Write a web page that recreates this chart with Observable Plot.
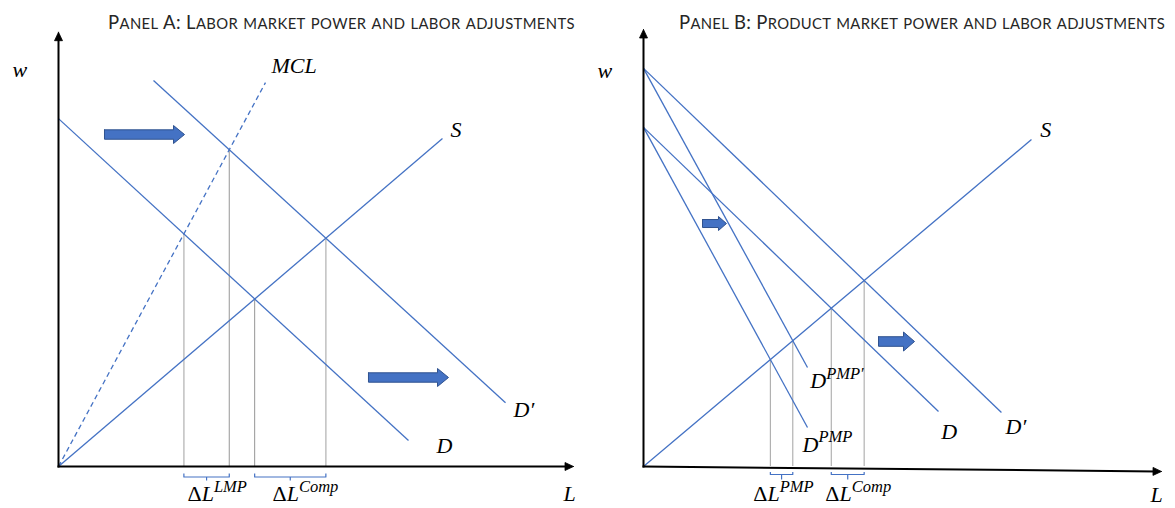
<!DOCTYPE html>
<html>
<head>
<meta charset="utf-8">
<script src="https://cdn.jsdelivr.net/npm/d3@7"></script>
<script src="https://cdn.jsdelivr.net/npm/@observablehq/plot@0.6"></script>
<style>
html,body{margin:0;padding:0;background:#fff;}
#wrap{position:relative;width:1175px;height:508px;overflow:hidden;background:#fff;}
.panel{position:absolute;top:0;height:508px;}
.panel svg{position:absolute;left:0;top:0;}
.title{position:absolute;white-space:nowrap;font-family:Lato,"Open Sans",sans-serif;color:#262626;z-index:2;line-height:1;}
.title .sc{font-size:0.8em;text-transform:uppercase;}
</style>
</head>
<body>
<div id="wrap">
  <div class="panel" id="panelA" style="left:0;width:587px"></div>
  <div class="panel" id="panelB" style="left:587px;width:588px"></div>
</div>
<script>
// ---------- Panel A data (L = labour, w = wage; both axes run 0–100) ----------
const titleA = "Panel A: Labor market power and labor adjustments";
const curveNamesA = ["D", "D′", "S", "MCL"];
const curveStartA = [[0, 80.1], [18.45, 88.9], [0, 0], [0, 0]];
const curveEndA   = [[67.96, 6.0], [86.8, 14.7], [74.56, 75.5], [40.19, 88.4]];
const dropPairsA  = [["D", "MCL"], ["D′", "MCL"], ["D", "S"], ["D′", "S"]];
const bracketNamesA = ["ΔL^LMP", "ΔL^Comp"];
const bracketDropsA = [[0, 1], [2, 3]];
const shiftFromA = [8.93, 60.19];
const shiftToA   = [24.47, 75.73];
const shiftWageA = [76.44, 20.49];
const labelTextA = ["w", "MCL", "S", "D′", "D", "L", "ΔL^LMP", "ΔL^Comp"];
const labelLA    = [-8.93, 41.36, 76.1, 88.35, 73.4, 98.06, 25.05, 41.55];
const labelWA    = [89.57, 90.72, 75.98, 11.51, 3.22, -8.0, -8.0, -8.0];
const xAxisEndWA = 0;

// ---------- Panel B data ----------
const titleB = "Panel B: Product market power and labor adjustments";
const curveNamesB = ["D′", "D^PMP′", "D", "D^PMP", "S"];
const curveStartB = [[0, 91.1], [0, 91.1], [0, 77.6], [0, 77.6], [0, 0]];
const curveEndB   = [[69.1, 12.36], [31.66, 22.65], [56.95, 12.59], [31.66, 8.92], [74.9, 74.83]];
const dropPairsB  = [["D^PMP", "S"], ["D^PMP′", "S"], ["D", "S"], ["D′", "S"]];
const bracketNamesB = ["ΔL^PMP", "ΔL^Comp"];
const bracketDropsB = [[0, 1], [2, 3]];
const shiftFromB = [11.39, 45.37];
const shiftToB   = [16.02, 52.32];
const shiftWageB = [55.6, 28.6];
const labelTextB = ["w", "S", "D^PMP′", "D^PMP", "D", "D′", "L", "ΔL^PMP", "ΔL^Comp"];
const labelLB    = [-8.88, 76.6, 32.2, 30.7, 57.5, 69.9, 97.9, 21.2, 35.1];
const labelWB    = [89.0, 75.5, 17.85, 3.43, 6.4, 7.55, -8.2, -7.9, -7.9];
const xAxisEndWB = -1.14;

// ---------- drawing ----------
const BLUE = "#4472C4";

function intersect(a0, a1, b0, b1) {
  const [x1, y1] = a0, [x2, y2] = a1, [x3, y3] = b0, [x4, y4] = b1;
  const den = (x1 - x2) * (y3 - y4) - (y1 - y2) * (x3 - x4);
  const t = ((x1 - x3) * (y3 - y4) - (y1 - y3) * (x3 - x4)) / den;
  return [x1 + t * (x2 - x1), y1 + t * (y2 - y1)];
}

function drawPanel(el, c) {
  const kx = (c.xRange[1] - c.xRange[0]) / 100;
  const ky = (c.yRange[0] - c.yRange[1]) / 100;
  const toL = px => px / kx, toW = px => px / ky;
  const idx = Object.fromEntries(c.names.map((n, i) => [n, i]));

  const curves = c.names.flatMap((n, i) => [
    {name: n, L: c.starts[i][0], w: c.starts[i][1]},
    {name: n, L: c.ends[i][0], w: c.ends[i][1]}
  ]);
  const cross = c.dropPairs.map(([p, q], i) => {
    const [L, w] = intersect(c.starts[idx[p]], c.ends[idx[p]], c.starts[idx[q]], c.ends[idx[q]]);
    return {i, L, w};
  });

  const br = [];
  c.bracketDrops.forEach(([a, b], k) => {
    const La = cross[a].L, Lb = cross[b].L, Lc = (La + Lb) / 2;
    const up = -toW(c.bracketPx.up), mid = -toW(c.bracketPx.mid), dn = -toW(c.bracketPx.down);
    br.push({id: k + "a", L: La, w: up}, {id: k + "a", L: La, w: mid},
            {id: k + "a", L: Lb, w: mid}, {id: k + "a", L: Lb, w: up});
    br.push({id: k + "b", L: Lc, w: mid}, {id: k + "b", L: Lc, w: dn});
  });

  const blocks = [];
  c.shiftFrom.forEach((L0, k) => {
    const s = c.shiftStyle[k];
    const len = (c.shiftTo[k] - L0) * kx;
    const w0 = c.shiftWage[k];
    [[0, s.hs], [len - s.hl, s.hs], [len - s.hl, s.hh], [len, 0], [len - s.hl, -s.hh],
     [len - s.hl, -s.hs], [0, -s.hs], [0, s.hs]]
      .forEach(([dx, dy]) => blocks.push({id: k, L: L0 + toL(dx), w: w0 + toW(dy)}));
  });

  const AH = {len: 8.5, half: 4};
  function head(tipL, tipW, id) {
    const px = tipL * kx, py = tipW * ky;
    const n = Math.hypot(px, py), ux = px / n, uy = py / n;
    const bx = -ux * AH.len, by = -uy * AH.len;
    const pts = [[0, 0], [bx - uy * AH.half, by + ux * AH.half], [bx + uy * AH.half, by - ux * AH.half], [0, 0]];
    const f = 1 - (AH.len * 0.7) / n;
    return {
      poly: pts.map(([dx, dy]) => ({id, L: tipL + toL(dx), w: tipW + toW(dy)})),
      line: [{id, L: 0, w: 0}, {id, L: tipL * f, w: tipW * f}]
    };
  }
  const hy = head(0, 100, "y"), hx = head(100, c.xEndW, "x");
  const axes = [...hy.line, ...hx.line];
  const heads = [...hy.poly, ...hx.poly];

  const labels = c.labelText.map((t, i) => ({t, L: c.labelL[i], w: c.labelW[i]}));

  const svg = Plot.plot({
    width: c.width,
    height: 508,
    x: {domain: [0, 100], range: c.xRange, axis: null},
    y: {domain: [0, 100], range: c.yRange, axis: null},
    style: {overflow: "visible", background: "transparent"},
    marks: [
      ...c.dropStyles.map(st => Plot.ruleX(cross.filter(d => st.which.includes(d.i)),
        {x: "L", y1: 0, y2: "w", stroke: st.color, strokeWidth: st.width})),
      Plot.line(curves.filter(d => !c.dashed.includes(d.name)),
        {x: "L", y: "w", z: "name", stroke: BLUE, strokeWidth: 1.3, strokeLinecap: "butt"}),
      Plot.line(curves.filter(d => c.dashed.includes(d.name)),
        {x: "L", y: "w", z: "name", stroke: BLUE, strokeWidth: 1.3, strokeDasharray: "5,3.5", strokeLinecap: "butt"}),
      Plot.line(br, {x: "L", y: "w", z: "id", stroke: BLUE, strokeWidth: 1.2, strokeLinecap: "butt", strokeLinejoin: "round"}),
      Plot.line(blocks, {x: "L", y: "w", z: "id", fill: BLUE, stroke: "#2F528F", strokeWidth: 1, strokeLinejoin: "miter"}),
      Plot.line(axes, {x: "L", y: "w", z: "id", stroke: "#000", strokeWidth: 2, strokeLinecap: "square"}),
      Plot.line(heads, {x: "L", y: "w", z: "id", fill: "#000", stroke: "#000", strokeWidth: 0.8, strokeLinejoin: "miter"}),
      Plot.text(labels, {x: "L", y: "w", text: "t", textAnchor: "start", lineAnchor: "bottom",
        fontFamily: "'Liberation Serif', serif", fontStyle: "italic", fontSize: 22, fill: "#000"})
    ]
  });

  // superscripts and upright Δ
  d3.select(svg).selectAll("text").each(function() {
    const s = this.textContent;
    const parts = s.split("^");
    const base = parts[0], sup = parts[1];
    const t = d3.select(this).text(null);
    const m = base.match(/^(Δ?)(.*)$/);
    if (m[1]) t.append("tspan").attr("font-style", "normal").text(m[1]);
    t.append("tspan").text(m[2]);
    if (sup) t.append("tspan").attr("font-size", "0.75em").attr("dy", "-0.55em").text(sup);
  });

  el.appendChild(svg);

  // title in small capitals (capital letters full size, the rest as reduced capitals)
  const tt = d3.select(el).append("div").attr("class", "title")
    .style("left", c.titleLeft + "px").style("top", c.titleTop + "px")
    .style("font-size", c.titleSize + "px");
  for (const run of c.title.match(/[^a-z]+|[a-z]+/g)) {
    if (/[a-z]/.test(run)) tt.append("span").attr("class", "sc").text(run);
    else tt.append("span").text(run);
  }
  const node = tt.node();
  const wNow = node.getBoundingClientRect().width;
  node.style.letterSpacing = ((c.titleWidth - wNow) / c.title.length) + "px";
}

drawPanel(document.getElementById("panelA"), {
  title: titleA, titleLeft: 108, titleTop: 13, titleSize: 18.5, titleWidth: 467,
  width: 587, xRange: [58, 573], yRange: [466, 31.7], xEndW: xAxisEndWA,
  names: curveNamesA, starts: curveStartA, ends: curveEndA, dashed: ["MCL"],
  dropPairs: dropPairsA,
  dropStyles: [{which: [0, 3], color: "#c4c4c4", width: 1.6}, {which: [1, 2], color: "#8a8a8a", width: 0.9}],
  bracketDrops: bracketDropsA, bracketPx: {up: 7, mid: 10.5, down: 14},
  shiftFrom: shiftFromA, shiftTo: shiftToA, shiftWage: shiftWageA,
  shiftStyle: [{hs: 4.7, hh: 9, hl: 11}, {hs: 4.7, hh: 9, hl: 11}],
  labelText: labelTextA, labelL: labelLA, labelW: labelWA
});

drawPanel(document.getElementById("panelB"), {
  title: titleB, titleLeft: 92, titleTop: 13, titleSize: 18.5, titleWidth: 486,
  width: 588, xRange: [56, 574], yRange: [466, 29], xEndW: xAxisEndWB,
  names: curveNamesB, starts: curveStartB, ends: curveEndB, dashed: [],
  dropPairs: dropPairsB,
  dropStyles: [{which: [0, 1, 2, 3], color: "#ababab", width: 1.1}],
  bracketDrops: bracketDropsB, bracketPx: {up: 5.5, mid: 8, down: 13},
  shiftFrom: shiftFromB, shiftTo: shiftToB, shiftWage: shiftWageB,
  shiftStyle: [{hs: 4, hh: 7, hl: 8}, {hs: 4.8, hh: 9.5, hl: 11}],
  labelText: labelTextB, labelL: labelLB, labelW: labelWB
});
</script>
</body>
</html>
